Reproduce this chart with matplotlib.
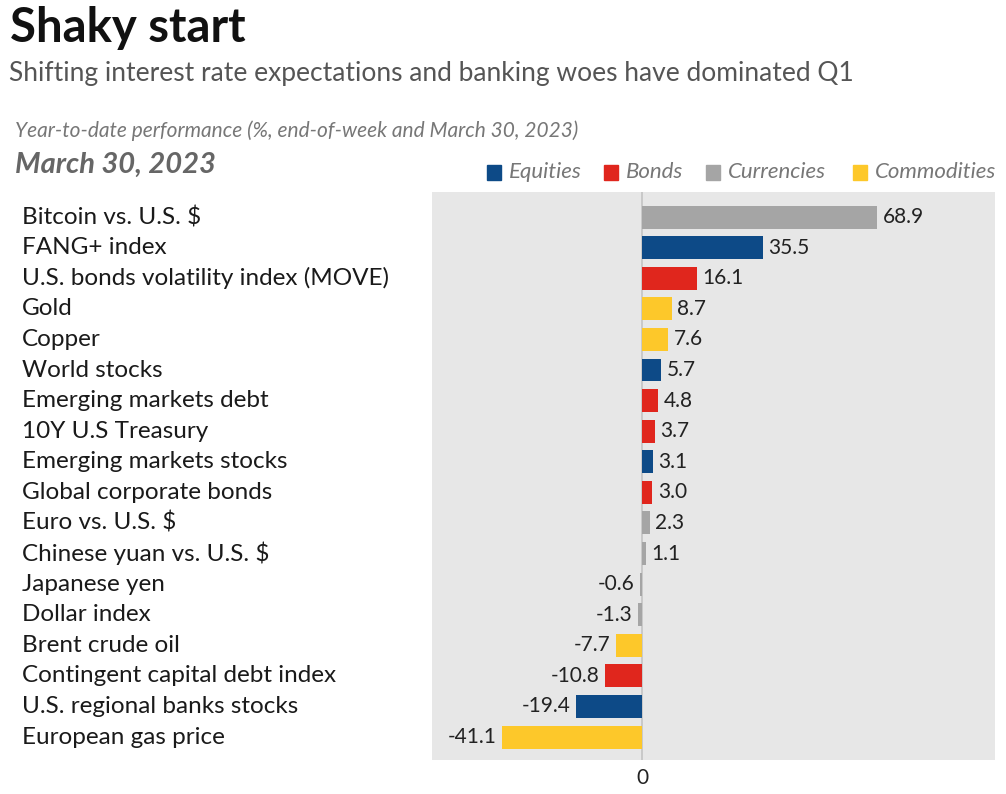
import matplotlib
matplotlib.use("Agg")
import matplotlib.pyplot as plt
from matplotlib.patches import Rectangle

categories = [
    "Bitcoin vs. U.S. $", "FANG+ index", "U.S. bonds volatility index (MOVE)",
    "Gold", "Copper", "World stocks", "Emerging markets debt",
    "10Y U.S Treasury", "Emerging markets stocks", "Global corporate bonds",
    "Euro vs. U.S. $", "Chinese yuan vs. U.S. $", "Japanese yen",
    "Dollar index", "Brent crude oil", "Contingent capital debt index",
    "U.S. regional banks stocks", "European gas price",
]
values = [68.9, 35.5, 16.1, 8.7, 7.6, 5.7, 4.8, 3.7, 3.1, 3.0, 2.3, 1.1,
          -0.6, -1.3, -7.7, -10.8, -19.4, -41.1]
groups = ["Currencies", "Equities", "Bonds", "Commodities", "Commodities",
          "Equities", "Bonds", "Bonds", "Equities", "Bonds", "Currencies",
          "Currencies", "Currencies", "Currencies", "Commodities", "Bonds",
          "Equities", "Commodities"]
legend_names = ["Equities", "Bonds", "Currencies", "Commodities"]
colors = {"Equities": "#0d4a87", "Bonds": "#e0261d",
          "Currencies": "#a5a5a5", "Commodities": "#fdc82a"}

FONT = "Lato"
plt.rcParams["font.family"] = [FONT, "DejaVu Sans"]

W, H = 1006, 794
fig = plt.figure(figsize=(W / 100, H / 100), dpi=100)
fig.patch.set_facecolor("white")

x0, x1, y0, y1 = 432, 995, 192, 760
ax = fig.add_axes([x0 / W, 1 - y1 / H, (x1 - x0) / W, (y1 - y0) / H])
ax.set_facecolor("#e7e7e7")

ypos = list(range(len(categories)))
ax.barh(ypos, values, height=0.75, color=[colors[g] for g in groups], zorder=3)
ax.axvline(0, color="#c4c4c4", lw=1.2, zorder=2)
ax.set_xlim(-61.6, 103.5)
ax.set_ylim(17.75, -0.82)

for y, v in zip(ypos, values):
    off = 1.6
    if v >= 0:
        ax.text(v + off, y, f"{v:.1f}", va="center", ha="left", fontsize=15,
                color="#222222", zorder=4)
    else:
        ax.text(v - off, y, f"{v:.1f}", va="center", ha="right", fontsize=15,
                color="#222222", zorder=4)

lx = (22 - x0) / (x1 - x0)
for y, c in zip(ypos, categories):
    ax.text(lx, y, c, transform=ax.get_yaxis_transform(), ha="left",
            va="center", fontsize=17.5, color="#1a1a1a", clip_on=False)

for s in ax.spines.values():
    s.set_visible(False)
ax.set_yticks([])
ax.set_xticks([0])
ax.set_xticklabels(["0"], fontsize=15, color="#222222")
ax.tick_params(axis="x", length=0, pad=6)

# Titles
fig.text(10 / W, 1 - 28 / H, "Shaky start", fontsize=34, fontweight="bold",
         color="#111111", va="center", ha="left")
fig.text(9 / W, 1 - 73 / H, "Shifting interest rate expectations and banking woes have dominated Q1",
         fontsize=19, color="#555555", va="center", ha="left")
fig.text(15 / W, 1 - 131 / H, "Year-to-date performance (%, end-of-week and March 30, 2023)",
         fontsize=15, style="italic", color="#777777", va="center", ha="left")
fig.text(15 / W, 1 - 165 / H, "March 30, 2023", fontsize=21, style="italic",
         fontweight="bold", color="#666666", va="center", ha="left")

# Legend
leg_x = [487, 604, 706, 853]
for lxp, name in zip(leg_x, legend_names):
    fig.patches.append(Rectangle((lxp / W, 1 - 180 / H), 14 / W, 15 / H,
                                 transform=fig.transFigure, color=colors[name]))
    fig.text((lxp + 22) / W, 1 - 172 / H, name, fontsize=16, style="italic",
             color="#777777", va="center", ha="left")

fig.savefig("out.png", dpi=100)
